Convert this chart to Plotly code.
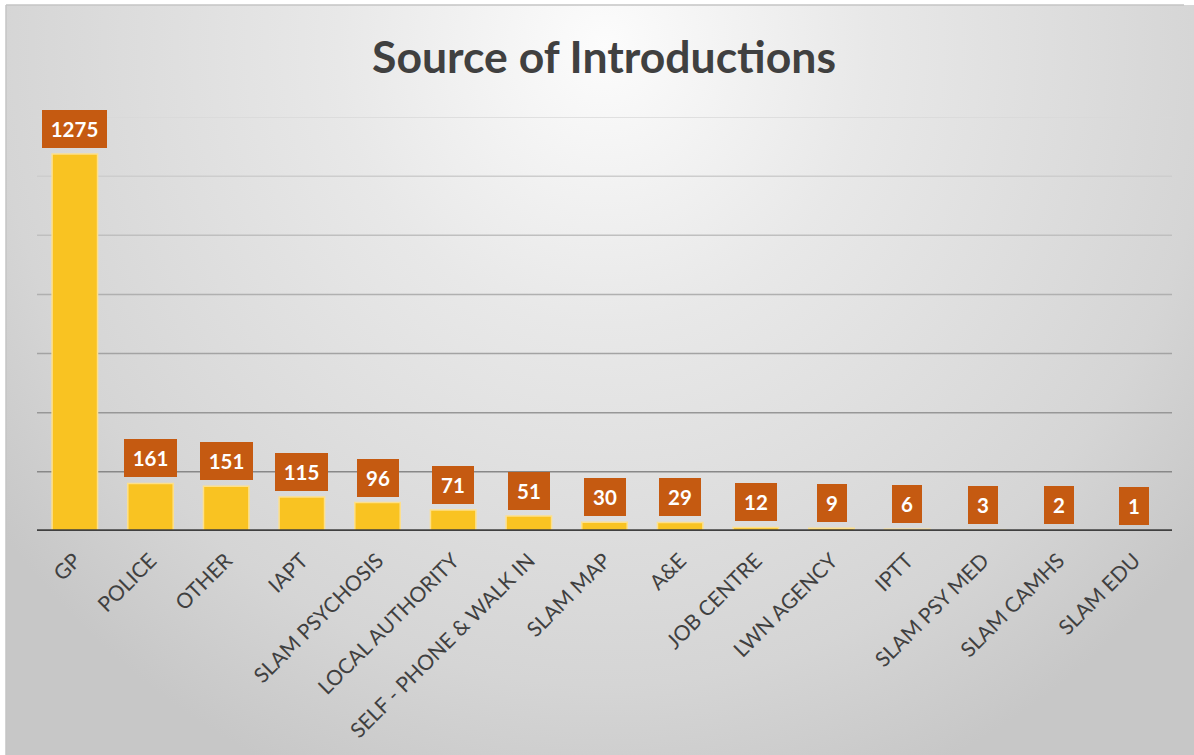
import base64
import plotly.graph_objects as go

# Introduction counts by referral source
categories = [
    "GP", "POLICE", "OTHER", "IAPT", "SLAM PSYCHOSIS", "LOCAL AUTHORITY",
    "SELF - PHONE & WALK IN", "SLAM MAP", "A&E", "JOB CENTRE", "LWN AGENCY",
    "IPTT", "SLAM PSY MED", "SLAM CAMHS", "SLAM EDU",
]
introductions = [1275, 161, 151, 115, 96, 71, 51, 30, 29, 12, 9, 6, 3, 2, 1]
grid_values = [200, 400, 600, 800, 1000, 1200, 1400]

W, H = 1194, 755
PLOT_L, PLOT_R, PLOT_T, PLOT_B = 37, 1172, 117, 531

# soft radial grey background for the chart area
svg = f"""<svg xmlns='http://www.w3.org/2000/svg' width='1188' height='750' viewBox='0 0 1188 750' preserveAspectRatio='none'>
<defs><radialGradient id='g' gradientUnits='userSpaceOnUse' cx='598' cy='40' r='800'
 gradientTransform='translate(598 40) scale(0.95 1) translate(-598 -40)'>
<stop offset='0' stop-color='#fcfcfc'/>
<stop offset='0.35' stop-color='#e8e8e8'/>
<stop offset='0.8' stop-color='#d5d5d5'/>
<stop offset='1' stop-color='#c7c7c7'/>
</radialGradient></defs>
<rect x='0' y='0' width='1188' height='750' fill='url(#g)'/>
</svg>"""
bg_src = "data:image/svg+xml;base64," + base64.b64encode(svg.encode()).decode()

pw = PLOT_R - PLOT_L
ph = PLOT_B - PLOT_T


def px_to_paper_x(px):
    return (px - PLOT_L) / pw


def px_to_paper_y(py):
    return (PLOT_B - py) / ph


fig = go.Figure()
fig.add_trace(go.Bar(
    x=categories,
    y=introductions,
    marker=dict(color="#F9C322", line=dict(color="#FDE08C", width=1.5)),
    hoverinfo="x+y",
))

# value labels in orange boxes above each bar
annotations = []
for cat, val in zip(categories, introductions):
    txt = str(val)
    annotations.append(dict(
        x=cat, y=val, xref="x", yref="y",
        text=f"<b>{txt}</b>",
        showarrow=False,
        yanchor="bottom", yshift=6,
        font=dict(family="Lato", size=20.5, color="white"),
        bgcolor="#C55A11",
        width=round(11.8 * len(txt) + 18), height=38,
        borderpad=0, borderwidth=0,
    ))

# horizontal gridlines, fading toward the top
grid_colors = ["#888888", "#979797", "#a3a3a3", "#b0b0b0", "#bfbfbf", "#cdcdcd", "#d9d9d9"]
shapes = []
for gv, gc in zip(grid_values, grid_colors):
    shapes.append(dict(type="line", xref="paper", yref="y", x0=0, x1=1, y0=gv, y1=gv,
                       line=dict(color=gc, width=1.5), layer="below"))
# dark baseline
shapes.append(dict(type="line", xref="paper", yref="y", x0=0, x1=1, y0=0, y1=0,
                   line=dict(color="#404040", width=3.5), layer="above"))
# chart border (top and left)
shapes.append(dict(type="line", xref="paper", yref="paper",
                   x0=px_to_paper_x(6), x1=px_to_paper_x(1184),
                   y0=px_to_paper_y(5), y1=px_to_paper_y(5),
                   line=dict(color="#c4c4c4", width=1.5), layer="below"))
shapes.append(dict(type="line", xref="paper", yref="paper",
                   x0=px_to_paper_x(6), x1=px_to_paper_x(6),
                   y0=px_to_paper_y(5), y1=px_to_paper_y(760),
                   line=dict(color="#c4c4c4", width=1.5), layer="below"))

fig.update_layout(
    width=W, height=H,
    margin=dict(l=PLOT_L, r=W - PLOT_R, t=PLOT_T, b=H - PLOT_B, autoexpand=False),
    paper_bgcolor="white",
    plot_bgcolor="rgba(0,0,0,0)",
    bargap=0.4,
    showlegend=False,
    title=dict(
        text="<b>Source of Introductions</b>",
        xref="container", yref="container",
        x=604 / W, y=1 - 57 / H, xanchor="center", yanchor="middle",
        font=dict(family="Lato", size=44.5, color="#404040"),
    ),
    xaxis=dict(
        tickangle=-45,
        tickfont=dict(family="Lato", size=21, color="#404040"),
        showgrid=False, zeroline=False, showline=False,
        ticks="outside", ticklen=8, tickcolor="rgba(0,0,0,0)",
        fixedrange=True,
    ),
    yaxis=dict(
        range=[0, 1400], showticklabels=False, showgrid=False,
        zeroline=False, showline=False, fixedrange=True,
    ),
    annotations=annotations,
    shapes=shapes,
    images=[dict(
        source=bg_src, xref="paper", yref="paper",
        x=px_to_paper_x(6), y=px_to_paper_y(5),
        sizex=(1194 - 6) / pw, sizey=(755 - 5) / ph,
        xanchor="left", yanchor="top", sizing="stretch", layer="below",
    )],
)

fig.write_html("out.html", config={"displayModeBar": False})
